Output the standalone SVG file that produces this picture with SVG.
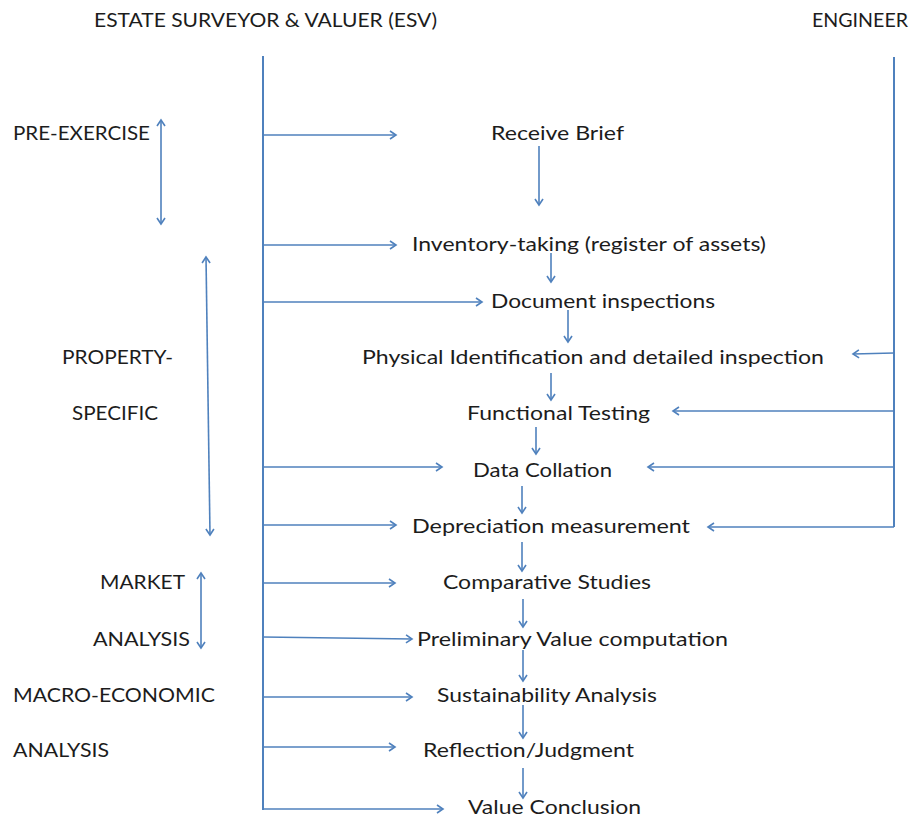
<svg xmlns="http://www.w3.org/2000/svg" width="912" height="817" viewBox="0 0 912 817">
<style>
text{font-family:Lato,"Open Sans","Liberation Sans",sans-serif;font-size:20px;fill:#1c1c1c}
.ln{stroke:#4F81BD;fill:none;stroke-width:1.6}
.main{stroke:#4F81BD;fill:none;stroke-width:2}
</style>
<defs>
<marker id="ah" markerUnits="userSpaceOnUse" markerWidth="12" markerHeight="12" refX="7" refY="5" orient="auto-start-reverse" viewBox="0 0 12 10">
<path d="M1,1 L7,5 L1,9" fill="none" stroke="#4F81BD" stroke-width="1.6"/>
</marker>
</defs>
<rect width="912" height="817" fill="#fff"/>

<g id="headers">
<text x="94" y="27" textLength="343" lengthAdjust="spacingAndGlyphs">ESTATE SURVEYOR &amp; VALUER (ESV)</text>
<text x="812" y="27" textLength="96" lengthAdjust="spacingAndGlyphs">ENGINEER</text>
</g>

<g id="phases">
<text x="13" y="140" textLength="137" lengthAdjust="spacingAndGlyphs">PRE-EXERCISE</text>
<text x="62" y="364" textLength="111" lengthAdjust="spacingAndGlyphs">PROPERTY-</text>
<text x="72" y="420" textLength="86" lengthAdjust="spacingAndGlyphs">SPECIFIC</text>
<text x="100" y="589" textLength="85" lengthAdjust="spacingAndGlyphs">MARKET</text>
<text x="93" y="646" textLength="97" lengthAdjust="spacingAndGlyphs">ANALYSIS</text>
<text x="13" y="702" textLength="202" lengthAdjust="spacingAndGlyphs">MACRO-ECONOMIC</text>
<text x="13" y="757" textLength="96" lengthAdjust="spacingAndGlyphs">ANALYSIS</text>
</g>

<g id="n1"><text x="491" y="140" textLength="133" lengthAdjust="spacingAndGlyphs">Receive Brief</text></g>
<g id="n2"><text x="412" y="251" textLength="354" lengthAdjust="spacingAndGlyphs">Inventory-taking (register of assets)</text></g>
<g id="n3"><text x="491" y="308" textLength="224" lengthAdjust="spacingAndGlyphs">Document inspections</text></g>
<g id="n4"><text x="362" y="364" textLength="462" lengthAdjust="spacingAndGlyphs">Physical Identification and detailed inspection</text></g>
<g id="n5"><text x="467" y="420" textLength="183" lengthAdjust="spacingAndGlyphs">Functional Testing</text></g>
<g id="n6"><text x="473" y="477" textLength="139" lengthAdjust="spacingAndGlyphs">Data Collation</text></g>
<g id="n7"><text x="412" y="533" textLength="278" lengthAdjust="spacingAndGlyphs">Depreciation measurement</text></g>
<g id="n8"><text x="443" y="589" textLength="208" lengthAdjust="spacingAndGlyphs">Comparative Studies</text></g>
<g id="n9"><text x="417" y="646" textLength="311" lengthAdjust="spacingAndGlyphs">Preliminary Value computation</text></g>
<g id="n10"><text x="437" y="702" textLength="220" lengthAdjust="spacingAndGlyphs">Sustainability Analysis</text></g>
<g id="n11"><text x="423" y="757" textLength="211" lengthAdjust="spacingAndGlyphs">Reflection/Judgment</text></g>
<g id="n12"><text x="468" y="814" textLength="173" lengthAdjust="spacingAndGlyphs">Value Conclusion</text></g>

<g id="connectors">
<!-- main vertical lines -->
<line class="main" x1="263" y1="56" x2="263" y2="810"/>
<line class="main" x1="894" y1="57" x2="894" y2="527"/>
<!-- ESV arrows -->
<line class="ln" x1="263" y1="135" x2="396" y2="135" marker-end="url(#ah)"/>
<line class="ln" x1="263" y1="245" x2="396" y2="245" marker-end="url(#ah)"/>
<line class="ln" x1="263" y1="302" x2="482" y2="302" marker-end="url(#ah)"/>
<line class="ln" x1="263" y1="467" x2="442" y2="467" marker-end="url(#ah)"/>
<line class="ln" x1="263" y1="525" x2="396" y2="525" marker-end="url(#ah)"/>
<line class="ln" x1="263" y1="583" x2="395" y2="583" marker-end="url(#ah)"/>
<line class="ln" x1="263" y1="637" x2="412" y2="639" marker-end="url(#ah)"/>
<line class="ln" x1="263" y1="697" x2="412" y2="697" marker-end="url(#ah)"/>
<line class="ln" x1="263" y1="747" x2="395" y2="747" marker-end="url(#ah)"/>
<line class="ln" x1="263" y1="809" x2="443" y2="809" marker-end="url(#ah)"/>
<!-- Engineer arrows -->
<line class="ln" x1="894" y1="353" x2="853" y2="354" marker-end="url(#ah)"/>
<line class="ln" x1="894" y1="411" x2="673" y2="411" marker-end="url(#ah)"/>
<line class="ln" x1="894" y1="467" x2="648" y2="467" marker-end="url(#ah)"/>
<line class="ln" x1="894" y1="527" x2="708" y2="527" marker-end="url(#ah)"/>
<!-- flow arrows -->
<line class="ln" x1="539" y1="146" x2="539" y2="205" marker-end="url(#ah)"/>
<line class="ln" x1="551" y1="253" x2="551" y2="282" marker-end="url(#ah)"/>
<line class="ln" x1="568" y1="310" x2="568" y2="342" marker-end="url(#ah)"/>
<line class="ln" x1="551" y1="373" x2="551" y2="400" marker-end="url(#ah)"/>
<line class="ln" x1="536" y1="427" x2="536" y2="454" marker-end="url(#ah)"/>
<line class="ln" x1="522" y1="486" x2="522" y2="513" marker-end="url(#ah)"/>
<line class="ln" x1="522" y1="542" x2="522" y2="571" marker-end="url(#ah)"/>
<line class="ln" x1="523" y1="599" x2="523" y2="627" marker-end="url(#ah)"/>
<line class="ln" x1="523" y1="650" x2="523" y2="681" marker-end="url(#ah)"/>
<line class="ln" x1="523" y1="705" x2="523" y2="738" marker-end="url(#ah)"/>
<line class="ln" x1="523" y1="768" x2="523" y2="798" marker-end="url(#ah)"/>
<!-- phase span arrows -->
<line class="ln" x1="161" y1="120" x2="161" y2="224" marker-start="url(#ah)" marker-end="url(#ah)"/>
<line class="ln" x1="206" y1="257" x2="210" y2="535" marker-start="url(#ah)" marker-end="url(#ah)"/>
<line class="ln" x1="201" y1="573" x2="201" y2="648" marker-start="url(#ah)" marker-end="url(#ah)"/>
</g>
</svg>
